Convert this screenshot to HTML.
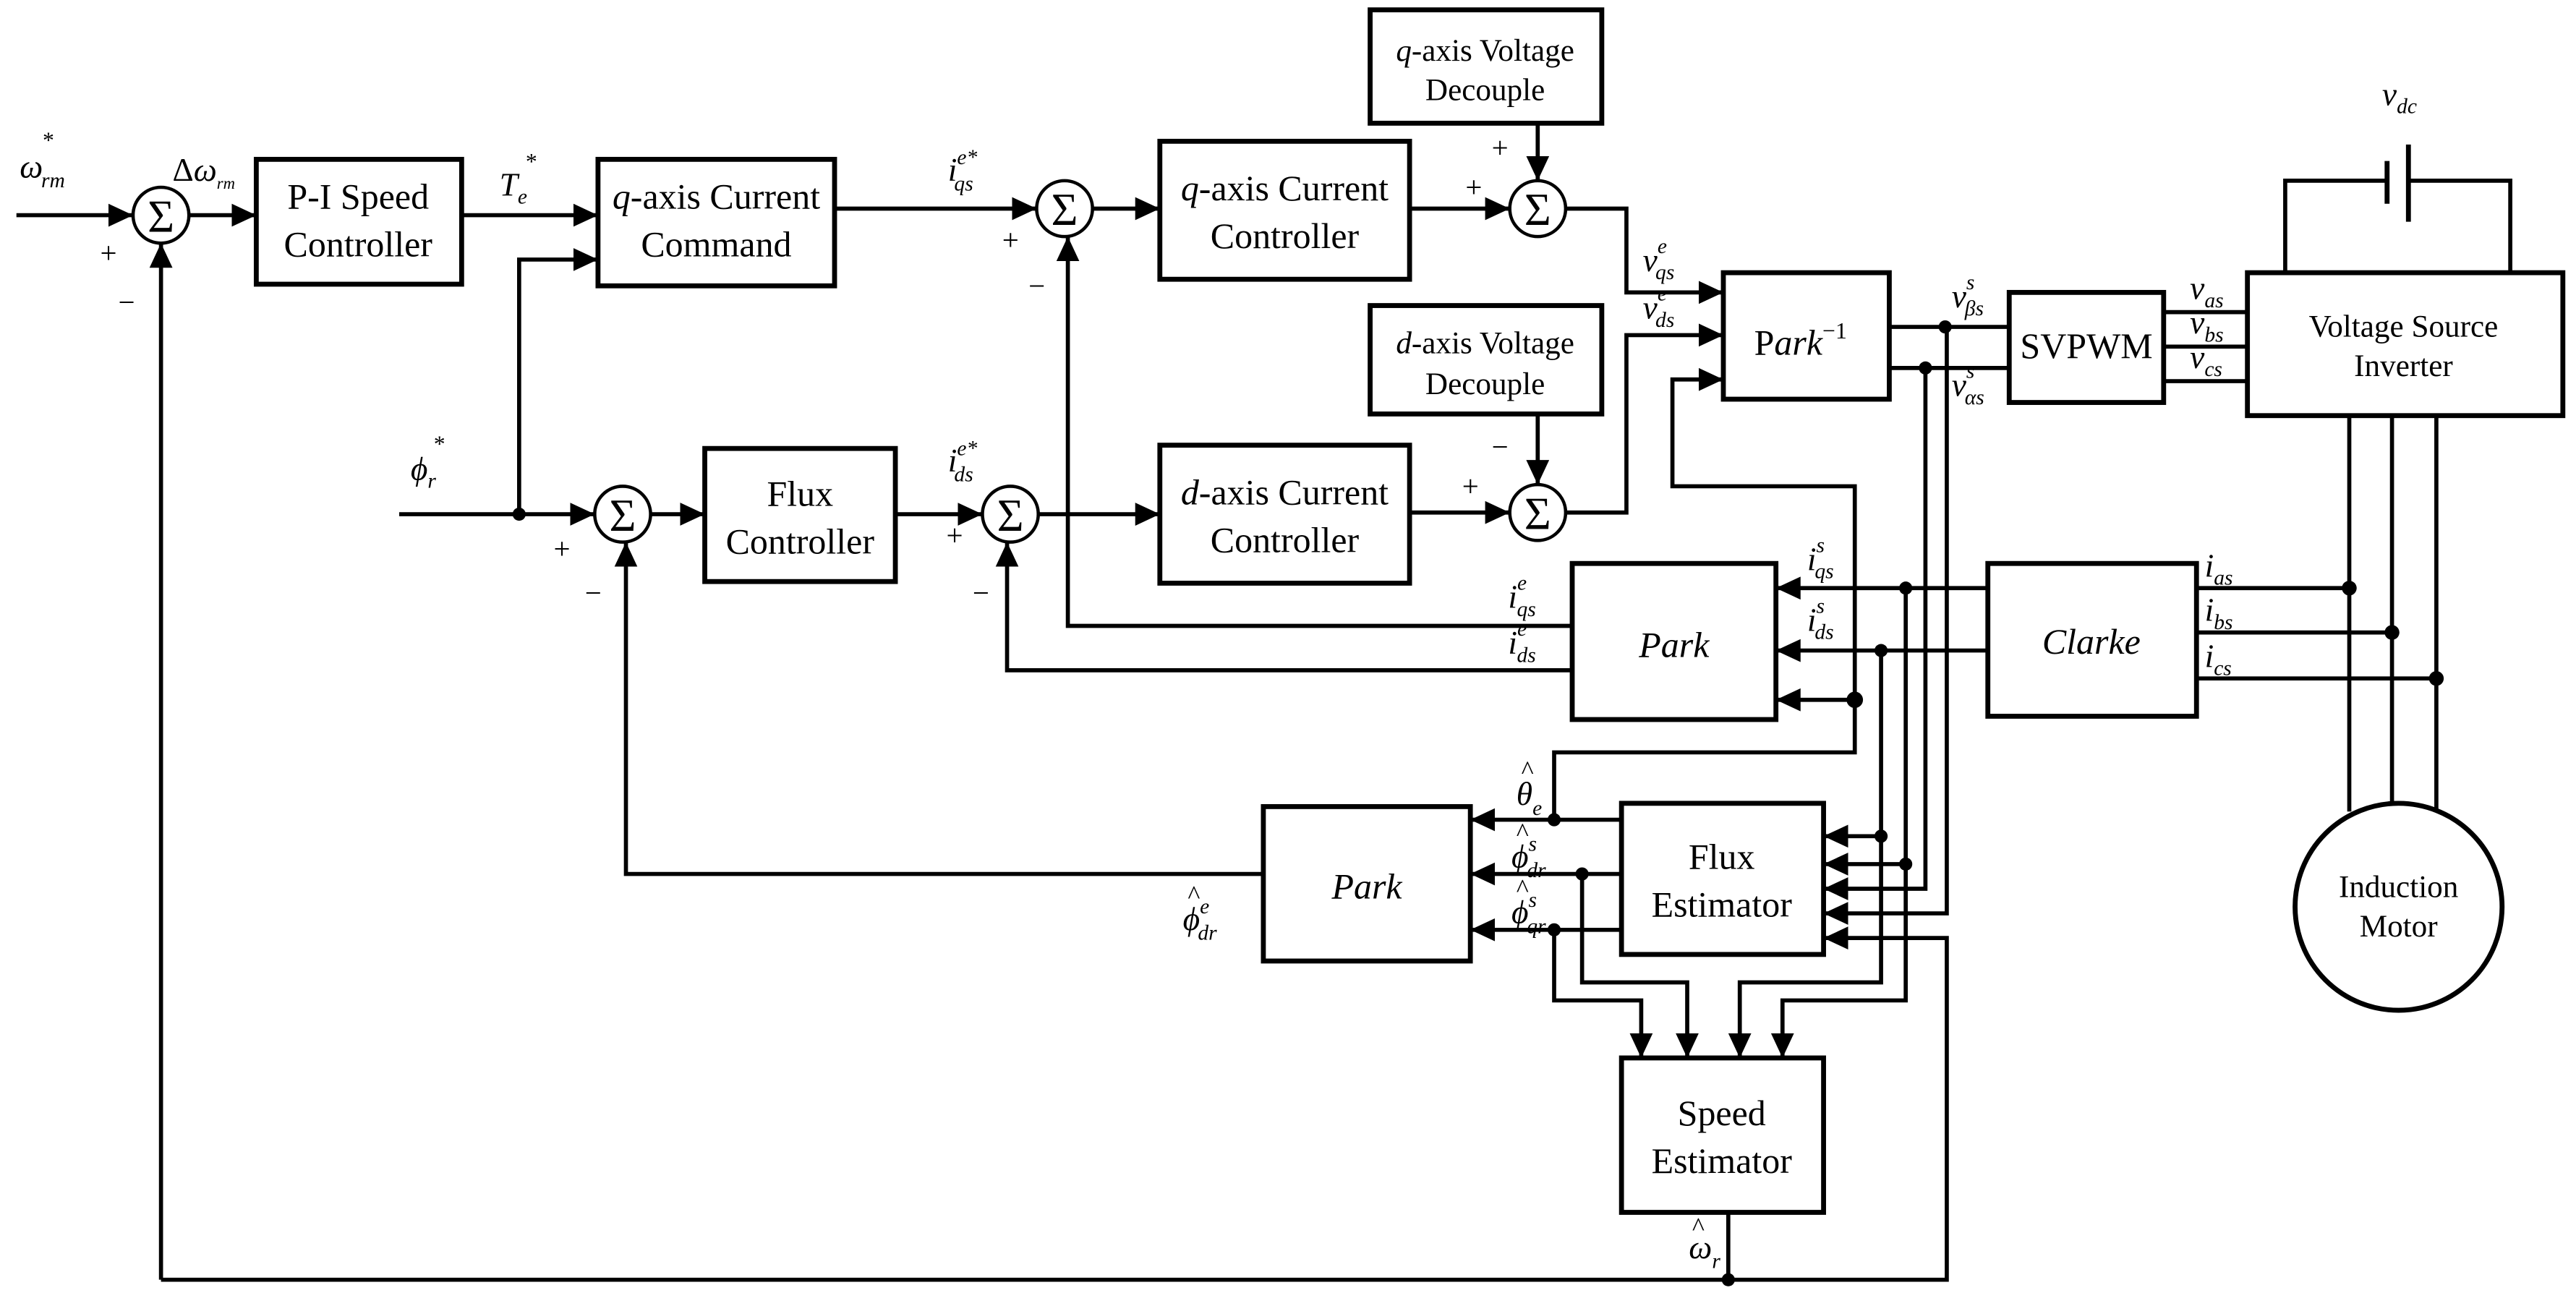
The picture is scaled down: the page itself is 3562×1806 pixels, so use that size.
<!DOCTYPE html>
<html><head><meta charset="utf-8"><style>
html,body{margin:0;padding:0;background:#fff;}
svg{display:block;font-family:"Liberation Serif","Times New Roman","DejaVu Serif",serif;}
svg text{font-family:"Liberation Serif","Times New Roman","DejaVu Serif",serif;fill:#000;}
.b{font-size:22px;text-anchor:middle;}
.bs{font-size:19px;text-anchor:middle;}
.i{font-style:italic;font-size:20px;}
.s{font-size:13px;}
.h{font-size:16px;font-style:normal;}
</style></head><body>
<svg width="3562" height="1806" viewBox="0 0 1568 795" preserveAspectRatio="none" xmlns="http://www.w3.org/2000/svg" font-family="Liberation Serif, serif">
<defs>
<marker id="a" markerUnits="userSpaceOnUse" markerWidth="16" markerHeight="16" refX="15" refY="7" orient="auto"><path d="M0,0 L15,7 L0,14 Z" fill="#000"/></marker>
</defs>
<g fill="none" stroke="#000" stroke-width="3">
<rect x="156" y="97" width="125" height="76"/>
<rect x="364" y="97" width="144" height="77"/>
<rect x="706" y="86" width="152" height="84"/>
<rect x="834" y="6" width="141" height="69"/>
<rect x="834" y="186" width="141" height="66"/>
<rect x="706" y="271" width="152" height="84"/>
<rect x="429" y="273" width="116" height="81"/>
<rect x="1049" y="166" width="101" height="77"/>
<rect x="1223" y="178" width="94" height="67"/>
<rect x="1368" y="166" width="192" height="87"/>
<rect x="957" y="343" width="124" height="95"/>
<rect x="1210" y="343" width="127" height="93"/>
<rect x="769" y="491" width="126" height="94"/>
<rect x="987" y="489" width="123" height="92"/>
<rect x="987" y="644" width="123" height="94"/>
</g>
<g fill="none" stroke="#000" stroke-width="2">
<circle cx="98" cy="131" r="17"/><circle cx="648" cy="127" r="17"/><circle cx="936" cy="127" r="17"/>
<circle cx="936" cy="312" r="17"/><circle cx="379" cy="313" r="17"/><circle cx="615" cy="313" r="17"/>
<circle cx="1460" cy="552" r="63" stroke-width="3"/>
</g>
<g font-size="28" text-anchor="middle">
<text x="98" y="141">Σ</text><text x="648" y="137">Σ</text><text x="936" y="137">Σ</text>
<text x="936" y="322">Σ</text><text x="379" y="323">Σ</text><text x="615" y="323">Σ</text>
</g>
<g fill="none" stroke="#000" stroke-width="2.5">
<path d="M10,131 H81" marker-end="url(#a)"/>
<path d="M115,131 H156" marker-end="url(#a)"/>
<path d="M281,131 H364" marker-end="url(#a)"/>
<path d="M316,313 V158 H364" marker-end="url(#a)"/>
<path d="M508,127 H631" marker-end="url(#a)"/>
<path d="M665,127 H706" marker-end="url(#a)"/>
<path d="M858,127 H919" marker-end="url(#a)"/>
<path d="M936,75 V110" marker-end="url(#a)"/>
<path d="M953,127 H990 V178 H1049" marker-end="url(#a)"/>
<path d="M936,252 V295" marker-end="url(#a)"/>
<path d="M858,312 H919" marker-end="url(#a)"/>
<path d="M953,312 H990 V204 H1049" marker-end="url(#a)"/>
<path d="M1129,426 V296 H1018 V231 H1049" marker-end="url(#a)"/>
<path d="M243,313 H362" marker-end="url(#a)"/>
<path d="M396,313 H429" marker-end="url(#a)"/>
<path d="M545,313 H598" marker-end="url(#a)"/>
<path d="M632,313 H706" marker-end="url(#a)"/>
<path d="M957,381 H650 V144" marker-end="url(#a)"/>
<path d="M957,408 H613 V330" marker-end="url(#a)"/>
<path d="M769,532 H381 V330" marker-end="url(#a)"/>
<path d="M98,779 V148" marker-end="url(#a)"/>
<path d="M98,779 H1185 V571 H1110" marker-end="url(#a)"/>
<path d="M1052,738 V779"/>
<path d="M1150,199 H1223"/><path d="M1150,224 H1223"/>
<path d="M1317,190 H1368"/><path d="M1317,211 H1368"/><path d="M1317,232 H1368"/>
<path d="M1391,166 V110 H1453 M1466,110 H1528 V166"/>
<path d="M1453,98 V124" stroke-width="3"/><path d="M1466,88 V135" stroke-width="3"/>
<path d="M1430,253 V494 M1456,253 V489 M1483,253 V494"/>
<path d="M1337,358 H1430 M1337,385 H1456 M1337,413 H1483"/>
<path d="M1210,358 H1081" marker-end="url(#a)"/>
<path d="M1210,396 H1081" marker-end="url(#a)"/>
<path d="M1129,426 H1081" marker-end="url(#a)"/>
<path d="M1129,426 V458 H946 V499"/>
<path d="M1185,199 V556 H1110" marker-end="url(#a)"/>
<path d="M1172,224 V541 H1110" marker-end="url(#a)"/>
<path d="M1160,358 V526 H1110" marker-end="url(#a)"/>
<path d="M1145,396 V509 H1110" marker-end="url(#a)"/>
<path d="M987,499 H895" marker-end="url(#a)"/>
<path d="M987,532 H895" marker-end="url(#a)"/>
<path d="M987,566 H895" marker-end="url(#a)"/>
<path d="M946,566 V609 H999 V644" marker-end="url(#a)"/>
<path d="M963,532 V598 H1027 V644" marker-end="url(#a)"/>
<path d="M1145,509 V598 H1059 V644" marker-end="url(#a)"/>
<path d="M1160,526 V609 H1085 V644" marker-end="url(#a)"/>
</g>
<g fill="#000">
<circle cx="316" cy="313" r="4"/><circle cx="1184" cy="199" r="4"/><circle cx="1172" cy="224" r="4"/>
<circle cx="1160" cy="358" r="4"/><circle cx="1145" cy="396" r="4"/><circle cx="1129" cy="426" r="5"/>
<circle cx="1430" cy="358" r="4.5"/><circle cx="1456" cy="385" r="4.5"/><circle cx="1483" cy="413" r="4.5"/>
<circle cx="946" cy="499" r="4"/><circle cx="963" cy="532" r="4"/><circle cx="946" cy="566" r="4"/>
<circle cx="1145" cy="509" r="4"/><circle cx="1160" cy="526" r="4"/><circle cx="1052" cy="779" r="4"/>
</g>
<text class="b" x="218" y="127">P-I  Speed</text><text class="b" x="218" y="156">Controller</text>
<text class="b" x="436" y="127"><tspan font-style="italic">q</tspan>-axis Current</text><text class="b" x="436" y="156">Command</text>
<text class="b" x="782" y="122"><tspan font-style="italic">q</tspan>-axis Current</text><text class="b" x="782" y="151">Controller</text>
<text class="bs" x="904" y="37"><tspan font-style="italic">q</tspan>-axis Voltage</text><text class="bs" x="904" y="61">Decouple</text>
<text class="bs" x="904" y="215"><tspan font-style="italic">d</tspan>-axis Voltage</text><text class="bs" x="904" y="240">Decouple</text>
<text class="b" x="782" y="307"><tspan font-style="italic">d</tspan>-axis Current</text><text class="b" x="782" y="336">Controller</text>
<text class="b" x="487" y="308">Flux</text><text class="b" x="487" y="337">Controller</text>
<text class="b" x="1096" y="216">P<tspan font-style="italic">ark</tspan><tspan font-size="14" dy="-10">−1</tspan></text>
<text class="b" x="1270" y="218" font-size="19">SVPWM</text>
<text class="bs" x="1463" y="205">Voltage Source</text><text class="bs" x="1463" y="229">Inverter</text>
<text class="b" x="1019" y="400" font-size="30" font-style="italic">Park</text>
<text class="b" x="1273" y="398" font-style="italic">Clarke</text>
<text class="b" x="832" y="547" font-size="30" font-style="italic">Park</text>
<text class="b" x="1048" y="529">Flux</text><text class="b" x="1048" y="558">Estimator</text>
<text class="b" x="1048" y="685">Speed</text><text class="b" x="1048" y="714">Estimator</text>
<text class="bs" x="1460" y="546">Induction</text><text class="bs" x="1460" y="570">Motor</text>
<g font-size="18">
<text x="61" y="160">+</text><text x="72" y="190">−</text>
<text x="610" y="152">+</text><text x="626" y="180">−</text>
<text x="908" y="96">+</text><text x="892" y="120">+</text>
<text x="908" y="278">−</text><text x="890" y="302">+</text>
<text x="337" y="340">+</text><text x="356" y="367">−</text>
<text x="576" y="332">+</text><text x="592" y="367">−</text>
</g>
<g class="i">
<text x="12" y="108">ω<tspan class="s" dx="-1" dy="6">rm</tspan></text><text x="26" y="90" font-size="14" font-style="normal">*</text>
<text x="105" y="110"><tspan font-style="normal">Δ</tspan>ω<tspan font-size="10" dy="5">rm</tspan></text>
<text x="304" y="119">T<tspan class="s" dy="5">e</tspan></text><text x="320" y="103" font-size="14" font-style="normal">*</text>
<text x="577" y="110">i<tspan class="s" dy="-10">e*</tspan><tspan class="s" dx="-14" dy="16">qs</tspan></text>
<text x="577" y="287">i<tspan class="s" dy="-10">e*</tspan><tspan class="s" dx="-14" dy="16">ds</tspan></text>
<text x="250" y="292">ϕ<tspan class="s" dy="5">r</tspan></text><text x="264" y="275" font-size="14" font-style="normal">*</text>
<text x="1000" y="165">v<tspan class="s" dy="-11">e</tspan><tspan class="s" dx="-7" dy="16">qs</tspan></text>
<text x="1000" y="194">v<tspan class="s" dy="-11">e</tspan><tspan class="s" dx="-7" dy="16">ds</tspan></text>
<text x="1188" y="187">v<tspan class="s" dy="-11">s</tspan><tspan class="s" dx="-6" dy="16">βs</tspan></text>
<text x="1188" y="241">v<tspan class="s" dy="-11">s</tspan><tspan class="s" dx="-6" dy="16">αs</tspan></text>
<text x="1333" y="182">v<tspan class="s" dy="5">as</tspan></text>
<text x="1333" y="203">v<tspan class="s" dy="5">bs</tspan></text>
<text x="1333" y="224">v<tspan class="s" dy="5">cs</tspan></text>
<text x="1450" y="64">v<tspan class="s" dy="5">dc</tspan></text>
<text x="1342" y="351">i<tspan class="s" dy="5">as</tspan></text>
<text x="1342" y="378">i<tspan class="s" dy="5">bs</tspan></text>
<text x="1342" y="406">i<tspan class="s" dy="5">cs</tspan></text>
<text x="1100" y="347">i<tspan class="s" dy="-11">s</tspan><tspan class="s" dx="-6" dy="16">qs</tspan></text>
<text x="1100" y="384">i<tspan class="s" dy="-11">s</tspan><tspan class="s" dx="-6" dy="16">ds</tspan></text>
<text x="918" y="370">i<tspan class="s" dy="-11">e</tspan><tspan class="s" dx="-6" dy="16">qs</tspan></text>
<text x="918" y="398">i<tspan class="s" dy="-11">e</tspan><tspan class="s" dx="-6" dy="16">ds</tspan></text>
<text x="923" y="490">θ<tspan class="s" dy="6">e</tspan></text><text class="h" x="926" y="474">^</text>
<text x="920" y="528">ϕ<tspan class="s" dy="-10">s</tspan><tspan class="s" dx="-6" dy="16">dr</tspan></text><text class="h" x="923" y="512">^</text>
<text x="920" y="562">ϕ<tspan class="s" dy="-10">s</tspan><tspan class="s" dx="-6" dy="16">qr</tspan></text><text class="h" x="923" y="546">^</text>
<text x="720" y="566">ϕ<tspan class="s" dy="-10">e</tspan><tspan class="s" dx="-7" dy="16">dr</tspan></text><text class="h" x="723" y="550">^</text>
<text x="1028" y="766">ω<tspan class="s" dy="6">r</tspan></text><text class="h" x="1030" y="752">^</text>
</g>
</svg>
</body></html>
